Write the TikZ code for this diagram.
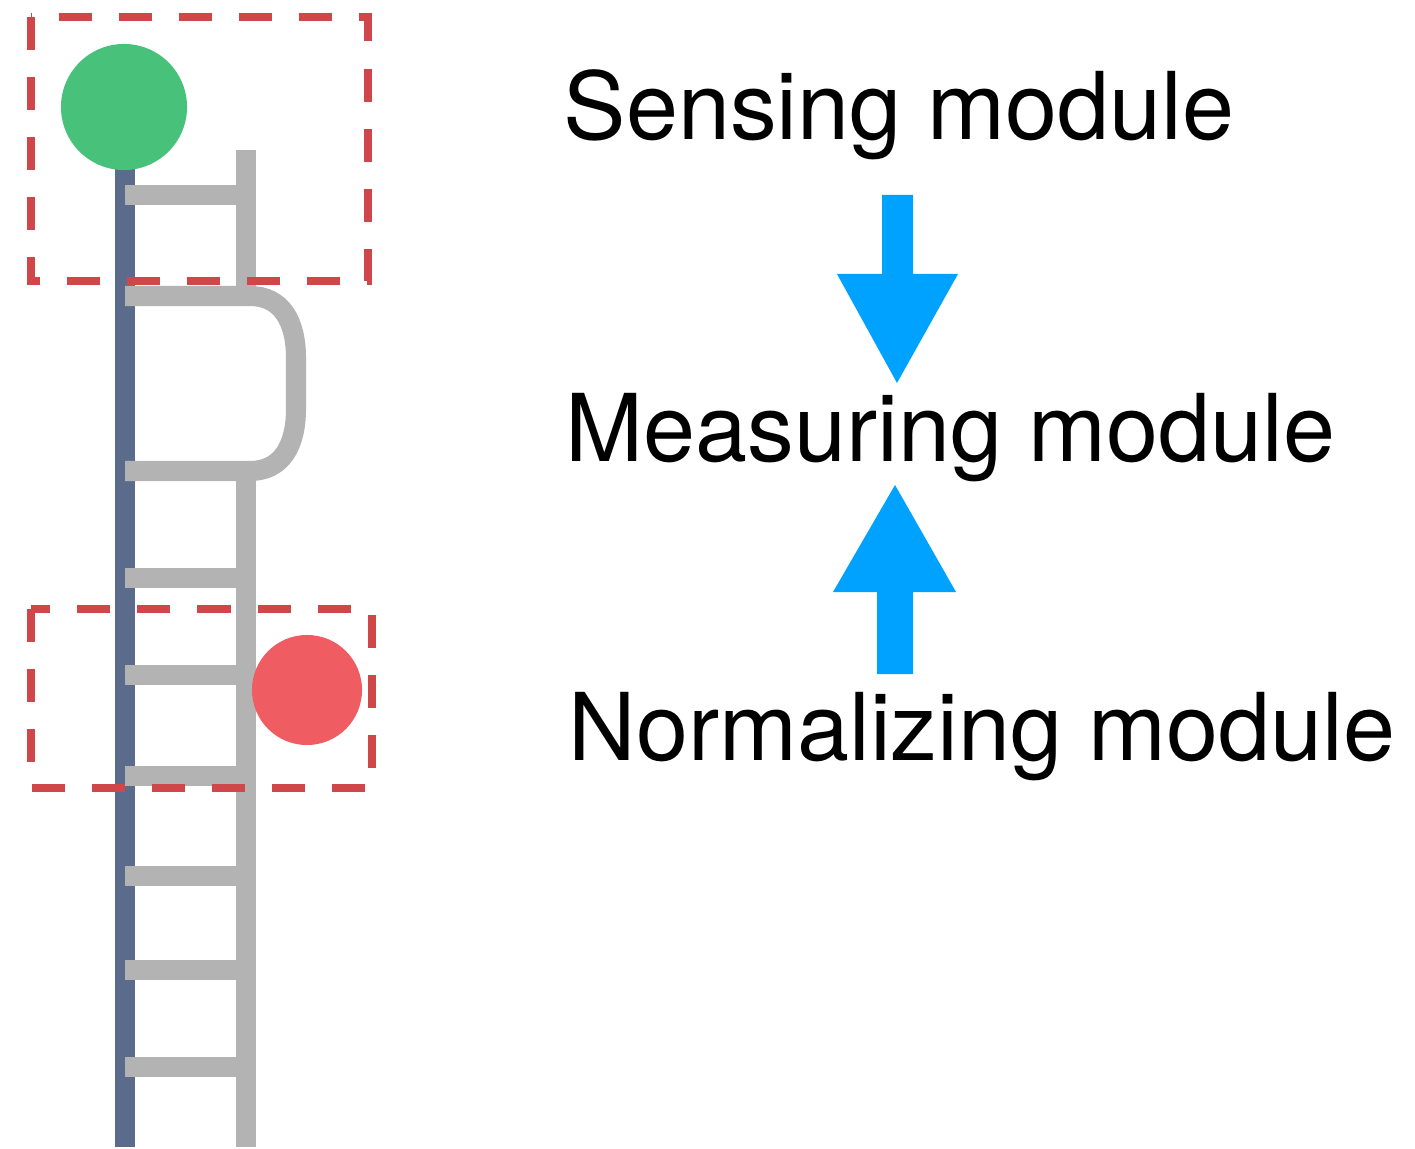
\documentclass[tikz,border=0pt]{standalone}
\usepackage{fontspec}
\setmainfont{TeX Gyre Heros}
\usetikzlibrary{positioning,calc}

\definecolor{strandblue}{HTML}{5A6B8C}
\definecolor{stranggray}{HTML}{B3B3B3}
\definecolor{boxred}{HTML}{D0474A}
\definecolor{dotgreen}{HTML}{48C27B}
\definecolor{dotred}{HTML}{EF5D62}
\definecolor{arrowblue}{HTML}{00A2FF}

\tikzset{
  rung/.style={draw=stranggray, line width=5.7pt},
  modbox/.style={draw=boxred, line width=2.3pt, dash pattern=on 0.33cm off 0.27cm},
  modlabel/.style={anchor=base west, inner sep=0pt, font=\fontsize{26.6}{32}\selectfont},
  blockarrow/.style={fill=arrowblue, draw=none}
}

\begin{document}
\begin{tikzpicture}[x=0.01cm, y=-0.01cm]
			\useasboundingbox (0,0) rectangle (1415,1149);
			% Strands
			\draw[draw=strandblue, line width=5.7pt] (125,107) -- (125,1147);
			\draw[rung] (246,150) -- (246,296);
			\draw[rung] (125,296) -- (250,296) .. controls (282,296) and (296,322) .. (296,358)
				-- (296,409) .. controls (296,445) and (282,471) .. (250,471) -- (125,471);
			\draw[rung] (246,471) -- (246,1147);
			
			% Rungs
			\foreach \y in {195,578,675,776,876,970,1067}
				\draw[rung] (125,\y) -- (246,\y);
			
			% Dots
			\node[circle, fill=dotgreen, minimum size=1.26cm, inner sep=0pt] (sensor) at (124,107) {};
			\node[circle, fill=dotred, minimum size=1.1cm, inner sep=0pt] (reference) at (307,690) {};
			
			% Module boxes
			\draw[modbox] (31,17) rectangle (368,281);
			\draw[modbox] (31,609) rectangle (372,788);
			
			% Labels
			\node[modlabel] (sensing) at (563,140) {Sensing module};
			\node[modlabel] (measuring) at (565,462) {Measuring module};
			\node[modlabel] (normalizing) at (568,760) {Normalizing module};
			
			% Arrows
			\fill[blockarrow] (882,195) -- (913,195) -- (913,274) -- (958,274) -- (897,383) -- (837,274) -- (882,274) -- cycle;
			\fill[blockarrow] (877,674) -- (913,674) -- (913,592) -- (956,592) -- (895,485) -- (833,592) -- (877,592) -- cycle;
		\end{tikzpicture}
\end{document}
